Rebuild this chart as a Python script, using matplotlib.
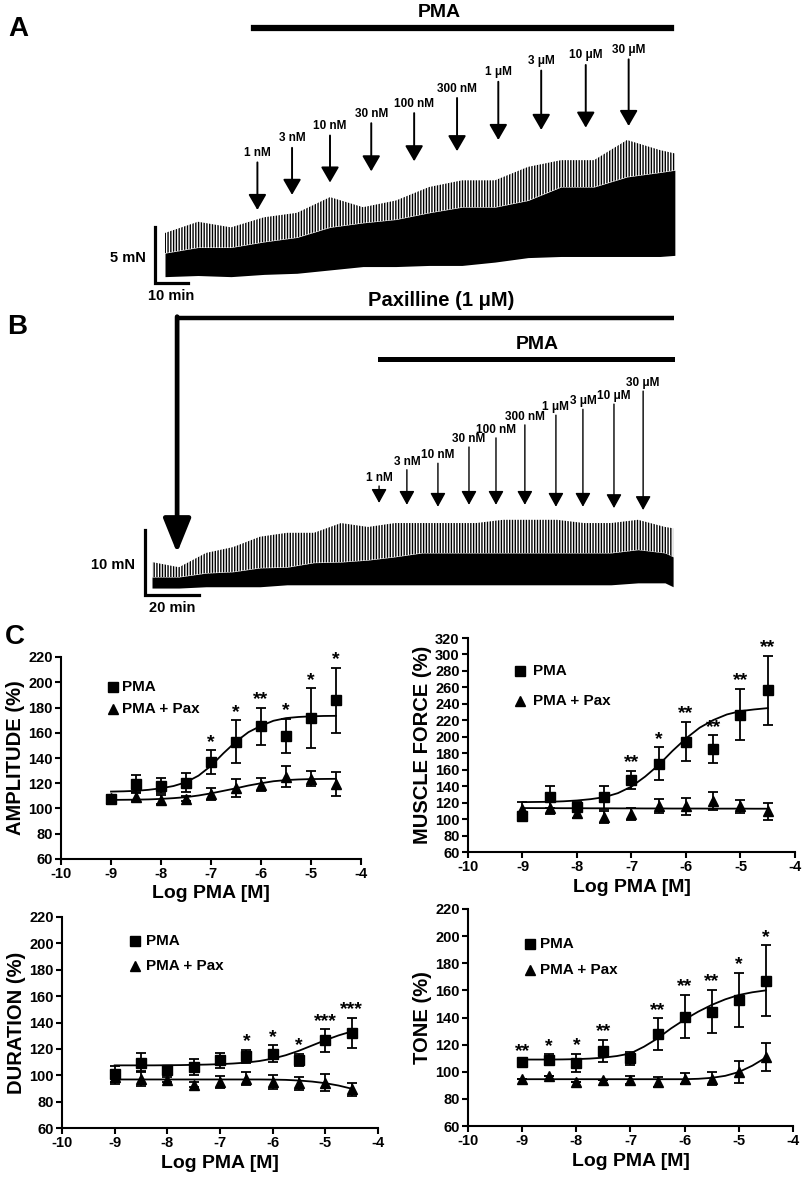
import matplotlib
matplotlib.use("Agg")
import matplotlib.pyplot as plt

plt.rcParams['font.family'] = ['Liberation Sans', 'DejaVu Sans']
plt.rcParams['font.weight'] = 'bold'
plt.rcParams['axes.labelweight'] = 'bold'
plt.rcParams['axes.unicode_minus'] = False
plt.rcParams['hatch.linewidth'] = 1.0

# ---------------- panel A : recording, PMA alone ----------------
a_time = [0, 10, 20, 30, 40, 50, 60, 70, 80, 90, 100, 110, 120, 130, 140, 150, 154.5]   # min
a_base = [0.3, 0.4, 0.3, 0.5, 0.6, 0.9, 1.2, 1.2, 1.3, 1.3, 1.6, 2.0, 2.1, 2.1, 2.1, 2.1, 2.2]  # mN
a_dense = [2.4, 2.9, 2.9, 3.4, 3.8, 4.7, 5.1, 5.4, 6.0, 6.5, 6.5, 7.1, 8.3, 8.3, 9.2, 9.6, 9.8]
a_peak = [4.2, 5.2, 4.7, 5.6, 6.0, 7.4, 6.5, 7.1, 8.3, 8.9, 8.9, 10.1, 10.7, 10.7, 12.5, 11.6, 11.3]
doses = ['1 nM', '3 nM', '10 nM', '30 nM', '100 nM', '300 nM', '1 \u03bcM', '3 \u03bcM', '10 \u03bcM', '30 \u03bcM']
a_dose_time = [28, 38.5, 50, 62.5, 75.5, 88.5, 101, 114, 127.5, 140.5]
a_arrow_tip = [6.25, 7.6, 8.7, 9.7, 10.6, 11.5, 12.5, 13.4, 13.6, 13.75]
a_arrow_top = [10.5, 11.8, 12.9, 14.0, 14.9, 16.25, 17.7, 18.7, 19.2, 19.7]
a_pma_span = (27, 153.3)

# ---------------- panel B : recording, paxilline then PMA ----------------
b_time = [0, 10, 20, 30, 40, 50, 60, 70, 80, 90, 100, 110, 120, 130, 140, 150, 160, 170, 180, 190, 193]
b_base = [0.3, 0.3, 0.5, 0.5, 0.5, 0.8, 0.8, 0.8, 0.8, 0.8, 0.8, 0.8, 0.8, 0.8, 0.8, 0.8, 0.8, 0.8, 1.1, 1.1, 0.5]
b_dense = [2.0, 2.0, 2.6, 2.8, 3.4, 3.5, 4.2, 4.3, 4.6, 5.1, 5.7, 5.7, 5.7, 5.7, 5.7, 5.7, 5.7, 5.7, 6.2, 5.7, 5.1]
b_peak = [4.3, 3.5, 5.7, 6.6, 8.2, 8.8, 8.8, 10.3, 9.7, 10.3, 10.3, 10.3, 10.3, 10.8, 10.8, 10.8, 10.3, 10.3, 10.8, 9.7, 9.5]
b_dose_time = [84.1, 94.4, 105.9, 117.4, 127.4, 138.1, 149.6, 159.6, 171.1, 181.9]
b_arrow_tip = [13.4, 13.1, 12.8, 13.1, 13.1, 13.1, 12.8, 12.8, 12.6, 12.3]
b_arrow_top = [16.0, 18.5, 19.5, 22.0, 23.4, 25.4, 26.9, 27.8, 28.6, 30.6]
b_pax_time = 9.3
b_pax_span_end = 193.3
b_pma_span = (84.4, 192.6)

# ---------------- panel C : concentration-response ----------------
log_pma = [-9, -8.5, -8, -7.5, -7, -6.5, -6, -5.5, -5, -4.5]
fit_x = [-9, -8.75, -8.5, -8.25, -8, -7.75, -7.5, -7.25, -7, -6.75,
         -6.5, -6.25, -6, -5.75, -5.5, -5.25, -5, -4.75, -4.5]

amp_pma = [107.3, 119.5, 117.9, 120.5, 136.7, 153, 165, 157.6, 171.6, 185.6]
amp_pma_sem = [3.5, 7, 6, 7.5, 9.5, 17, 15, 13.5, 23.5, 26]
amp_pax = [108, 109.4, 106.8, 107.6, 111.6, 116, 119, 125.3, 123.5, 119.3]
amp_pax_sem = [3, 3.5, 3.5, 2, 4.5, 7, 5.5, 8, 6, 9.5]
amp_stars = ['', '', '', '', '*', '*', '**', '*', '*', '*']
amp_fit_pma = [113.4, 113.6, 114.0, 114.8, 116.0, 117.8, 120.8, 126.0, 133.8, 143.8,
               153.0, 160.5, 165.5, 169.5, 171.6, 172.5, 173.0, 173.3, 173.4]
amp_fit_pax = [106.8, 106.9, 107.0, 107.2, 107.6, 108.2, 109.0, 110.3, 112.0, 114.0,
               116.0, 118.2, 120.0, 121.6, 122.5, 123.0, 123.3, 123.4, 123.5]

frc_pma = [103.2, 126.6, 115, 126.6, 147.6, 167, 194, 184.8, 227, 256.6]
frc_pma_sem = [4, 13, 6, 14, 11, 20, 24, 17, 31, 42]
frc_pax = [112, 113.3, 107, 102.4, 106.4, 116, 115.3, 122.2, 115.3, 109.3]
frc_pax_sem = [9, 7, 6, 7, 7, 9, 10, 11, 8, 10]
frc_stars = ['', '', '', '', '**', '*', '**', '**', '**', '**']
frc_fit_pma = [120.6, 120.8, 121.0, 121.6, 122.6, 124.2, 126.6, 131.5, 139.5, 151.6,
               165.8, 182.7, 198.0, 211.0, 220.3, 227.1, 231.2, 233.2, 234.8]
frc_fit_pax = [113.4, 113.3, 113.3, 113.2, 113.2, 113.1, 113.1, 113.0, 113.0, 112.9,
               112.9, 112.8, 112.8, 112.8, 112.7, 112.7, 112.7, 112.6, 112.6]

dur_pma = [100.7, 109.5, 104.2, 106.2, 111.3, 114.3, 116.4, 111.8, 126.5, 132]
dur_pma_sem = [6, 7, 2, 6, 5.5, 5, 6.5, 4.5, 8.5, 11.5]
dur_pax = [98.7, 97.4, 96.6, 92.8, 94.9, 97.4, 94.9, 94, 94.4, 89.3]
dur_pax_sem = [5, 5.5, 2, 2, 4.5, 5, 5, 5, 6.5, 5]
dur_stars = ['', '', '', '', '', '*', '*', '*', '***', '***']
dur_fit_pma = [107.5, 107.5, 107.5, 107.5, 107.6, 107.7, 107.9, 108.1, 108.4, 108.9,
               109.6, 110.8, 112.6, 115.2, 118.6, 122.6, 126.6, 130.2, 133.2]
dur_fit_pax = [96.8, 96.8, 96.8, 96.8, 96.8, 96.8, 96.8, 96.8, 96.8, 96.8,
               96.8, 96.8, 96.7, 96.5, 96.0, 95.2, 94.0, 92.2, 89.8]

ton_pma = [107.3, 109, 106.6, 115.5, 109.8, 127.8, 140.6, 144.3, 153, 167.2]
ton_pma_sem = [2, 4, 6.5, 8, 4.5, 11.6, 16, 16, 20, 26]
ton_pax = [95, 96.8, 92.6, 93.8, 93.8, 92.6, 95, 95, 100, 111]
ton_pax_sem = [0, 0, 0, 0, 3, 3.5, 4, 5, 8, 10.5]
ton_stars = ['**', '*', '*', '**', '', '**', '**', '**', '*', '*']
ton_fit_pma = [109.0, 109.0, 109.0, 109.1, 109.3, 109.7, 110.4, 111.6, 113.5, 118.5,
               124.6, 132.0, 138.5, 144.3, 149.3, 153.4, 156.6, 158.6, 160.0]
ton_fit_pax = [94.5, 94.5, 94.5, 94.5, 94.5, 94.5, 94.5, 94.5, 94.5, 94.5,
               94.5, 94.5, 94.5, 94.8, 95.5, 97.0, 99.8, 104.5, 110.5]

W, H = 803, 1181
fig = plt.figure(figsize=(W / 100, H / 100), dpi=100)


def px_rect(l, t, r, b):
    return [l / W, 1 - b / H, (r - l) / W, (b - t) / H]


def trace_axes(box, origin, px_min, px_mn):
    l, t, r, b = box
    ox, oy = origin
    ax = fig.add_axes(px_rect(l, t, r, b))
    ax.set_xlim((l - ox) / px_min, (r - ox) / px_min)
    ax.set_ylim((oy - b) / px_mn, (oy - t) / px_mn)
    ax.axis('off')
    return ax


def draw_trace(ax, t, base, dense, peak):
    ax.fill_between(t, base, dense, color='k', lw=0)
    ax.fill_between(t, dense, peak, facecolor='none', edgecolor='k', hatch='||||||', lw=0)


def dose_arrows(ax, times, tips, tops, style, lw, fs, off):
    for t, tip, top, lab in zip(times, tips, tops, doses):
        ax.annotate('', xy=(t, tip), xytext=(t, top),
                    arrowprops=dict(arrowstyle=style, color='k', lw=lw,
                                    shrinkA=0, shrinkB=0), annotation_clip=False)
        ax.annotate(lab, xy=(t, top), xytext=(0, off), textcoords='offset points',
                    ha='center', va='bottom', fontsize=fs, annotation_clip=False)


def scale_bar(ax, x0, y0, dx, dy, lab_y, lab_x):
    ax.plot([x0, x0, x0 + dx], [y0 + dy, y0, y0], color='k', lw=2.3,
            solid_joinstyle='miter', clip_on=False)
    ax.annotate(lab_y, xy=(x0, y0 + dy / 2), xytext=(-7, -2), textcoords='offset points',
                ha='right', va='center', fontsize=10.5, annotation_clip=False)
    ax.annotate(lab_x, xy=(x0 + dx / 2, y0), xytext=(0, -4), textcoords='offset points',
                ha='center', va='top', fontsize=10.5, annotation_clip=False)


# ---- A ----
axA = trace_axes((130, 0, 700, 300), (165, 280), 3.3, 11.2)
draw_trace(axA, a_time, a_base, a_dense, a_peak)
dose_arrows(axA, a_dose_time, a_arrow_tip, a_arrow_top,
            '-|>,head_length=0.95,head_width=0.55', 1.4, 8.5, 2.5)
axA.plot(a_pma_span, [22.5, 22.5], color='k', lw=4.5, clip_on=False)
axA.text(sum(a_pma_span) / 2 - 7, 23.1, 'PMA', ha='center', va='bottom', fontsize=14)
scale_bar(axA, -3.0, -0.3, 10, 5, '5 mN', '10 min')

# ---- B ----
axB = trace_axes((120, 290, 700, 620), (152, 590), 2.7, 6.5)
draw_trace(axB, b_time, b_base, b_dense, b_peak)
dose_arrows(axB, b_dose_time, b_arrow_tip, b_arrow_top,
            '-|>,head_length=0.85,head_width=0.47', 1.0, 8.5, 1.5)
axB.plot([b_pax_time, b_pax_span_end], [41.8, 41.8], color='k', lw=3.2,
         solid_capstyle='butt', clip_on=False)
axB.annotate('', xy=(b_pax_time, 5.7), xytext=(b_pax_time, 42.05),
             arrowprops=dict(arrowstyle='-|>,head_length=2.1,head_width=0.85',
                             color='k', lw=3.4, shrinkA=0, shrinkB=0),
             annotation_clip=False)
axB.text(107, 43.0, 'Paxilline (1 \u03bcM)', ha='center', va='bottom', fontsize=14.5)
axB.plot(b_pma_span, [35.5, 35.5], color='k', lw=3.6, clip_on=False)
axB.text(142.6, 36.4, 'PMA', ha='center', va='bottom', fontsize=14)
scale_bar(axB, -2.6, -0.8, 20, 10, '10 mN', '20 min')

fig.text(8 / W, 1 - 29 / H, 'A', fontsize=20, va='center', ha='left')
fig.text(7 / W, 1 - 327 / H, 'B', fontsize=20, va='center', ha='left')
fig.text(5 / W, 1 - 637 / H, 'C', fontsize=20, va='center', ha='left')


# ---- C ----
def dose_plot(rect, ylim, ylabel, pma, pma_sem, pax, pax_sem, stars, fit_pma, fit_pax, leg):
    ax = fig.add_axes(px_rect(*rect))
    ax.plot(fit_x, fit_pax, color='k', lw=1.3)
    ax.plot(fit_x, fit_pma, color='k', lw=1.3)
    ax.errorbar(log_pma, pax, yerr=pax_sem, fmt='^', color='k', ms=7.5,
                capsize=3.6, elinewidth=1.3, capthick=1.3)
    ax.errorbar(log_pma, pma, yerr=pma_sem, fmt='s', color='k', ms=7,
                capsize=3.6, elinewidth=1.3, capthick=1.3)
    for x, m, s, st in zip(log_pma, pma, pma_sem, stars):
        if st:
            ax.annotate(st, xy=(x, m + s), xytext=(0, 2.5), textcoords='offset points',
                        ha='center', va='baseline', fontsize=14)
    ax.set_xlim(-10, -4)
    ax.set_ylim(*ylim)
    xt = list(range(-10, -3))
    yt = list(range(ylim[0], ylim[1] + 1, 20))
    ax.set_xticks(xt, [str(v) for v in xt], fontweight='bold', fontsize=10.5)
    ax.set_yticks(yt, [str(v) for v in yt], fontweight='bold', fontsize=10.5)
    for side in ('top', 'right'):
        ax.spines[side].set_visible(False)
    for side in ('left', 'bottom'):
        ax.spines[side].set_linewidth(1.5)
    ax.tick_params(direction='out', length=4, width=1.5, pad=2)
    ax.set_xlabel('Log PMA [M]', fontsize=14, fontweight='bold', labelpad=3)
    ax.set_ylabel(ylabel, fontsize=14.5, fontweight='bold', labelpad=2)
    sx, sy1, sy2, tx = leg
    fig.lines.append(plt.Line2D([sx / W], [1 - sy1 / H], marker='s', ms=7, color='k',
                                transform=fig.transFigure, figure=fig))
    fig.lines.append(plt.Line2D([sx / W], [1 - sy2 / H], marker='^', ms=7.5, color='k',
                                transform=fig.transFigure, figure=fig))
    fig.text(tx / W, 1 - sy1 / H, 'PMA', fontsize=11, va='center', ha='left')
    fig.text(tx / W, 1 - sy2 / H, 'PMA + Pax', fontsize=11, va='center', ha='left')
    return ax


dose_plot((61, 657, 361, 859), (60, 220), 'AMPLITUDE (%)', amp_pma, amp_pma_sem,
          amp_pax, amp_pax_sem, amp_stars, amp_fit_pma, amp_fit_pax, (113, 687, 709, 122))
dose_plot((468, 638, 795, 852), (60, 320), 'MUSCLE FORCE (%)', frc_pma, frc_pma_sem,
          frc_pax, frc_pax_sem, frc_stars, frc_fit_pma, frc_fit_pax, (520, 671, 701, 533))
dose_plot((62, 917, 378, 1128), (60, 220), 'DURATION (%)', dur_pma, dur_pma_sem,
          dur_pax, dur_pax_sem, dur_stars, dur_fit_pma, dur_fit_pax, (135, 941, 966, 146))
dose_plot((468, 909, 793, 1126), (60, 220), 'TONE (%)', ton_pma, ton_pma_sem,
          ton_pax, ton_pax_sem, ton_stars, ton_fit_pma, ton_fit_pax, (530, 944, 970, 540))

fig.savefig('out.png', dpi=100)
